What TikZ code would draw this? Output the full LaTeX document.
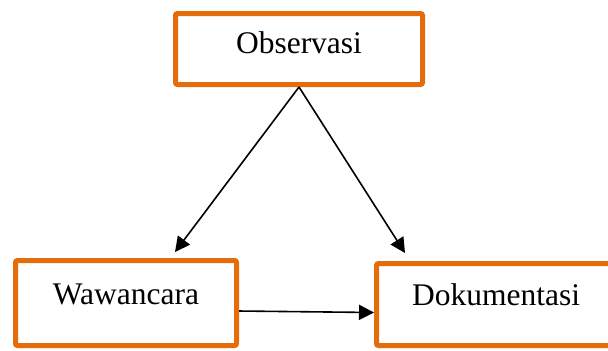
\documentclass[tikz,border=0pt]{standalone}
\usepackage{fontspec}
\setmainfont{Liberation Serif}
\usetikzlibrary{arrows.meta}
\definecolor{boxorange}{HTML}{E46C0A}
\def\orangebox{\node[draw=boxorange,line width=2.5pt,rounded corners=1pt,inner sep=0pt,font=\fontsize{15.75}{19}\selectfont]}

\begin{document}
\begin{tikzpicture}[x=0.5pt,y=-0.5pt,>={Triangle[length=7.5pt,width=7.5pt]},line width=0.8pt]
\useasboundingbox (0,0) rectangle (608,350);
\clip (0,0) rectangle (608,350);
\orangebox[minimum width=123.5pt,minimum height=35.5pt,text depth=6pt] (obs) at (299,49) {Observasi};
\orangebox[minimum width=110.5pt,minimum height=42.5pt,text depth=9pt] (waw) at (126,303) {Wawancara};
\orangebox[minimum width=119.5pt,minimum height=41pt,text depth=10pt] (dok) at (496,304.5) {Dokumentasi};
\coordinate (wtip) at (175,252);
\coordinate (dtip) at (405,253);
\draw[->] (obs.south) -- (wtip);
\draw[->] (obs.south) -- (dtip);
\draw[->] ([yshift=-4pt]waw.east) -- ([yshift=-4pt]dok.west);
\end{tikzpicture}
\end{document}
